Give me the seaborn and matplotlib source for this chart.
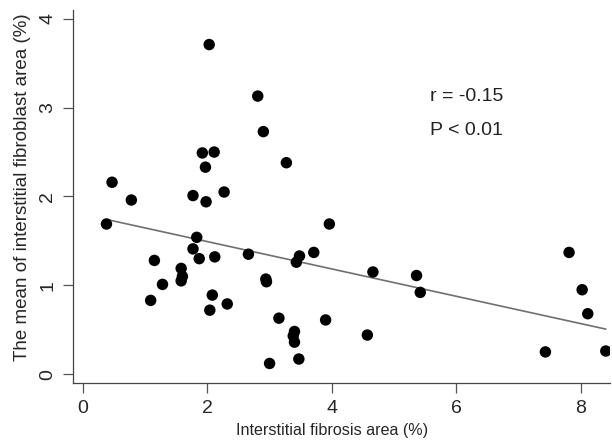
import matplotlib
matplotlib.use("Agg")
import matplotlib.pyplot as plt
import seaborn as sns
import numpy as np
import pandas as pd

fibrosis = [0.38, 0.47, 0.78, 1.09, 1.15, 1.28, 1.58, 1.60, 1.58, 1.77, 1.77, 1.83, 1.87,
            1.92, 1.97, 1.98, 2.03, 2.04, 2.08, 2.11, 2.12, 2.27, 2.32, 2.66, 2.81, 2.90,
            2.94, 2.95, 3.00, 3.15, 3.27, 3.38, 3.40, 3.40, 3.43, 3.47, 3.48, 3.71, 3.90,
            3.96, 4.57, 4.66, 5.36, 5.42, 7.43, 7.81, 8.02, 8.11, 8.40]
fibroblast = [1.69, 2.16, 1.96, 0.83, 1.28, 1.01, 1.19, 1.10, 1.05, 2.01, 1.41, 1.54, 1.30,
              2.49, 2.33, 1.94, 3.71, 0.72, 0.89, 2.50, 1.32, 2.05, 0.79, 1.35, 3.13, 2.73,
              1.07, 1.04, 0.12, 0.63, 2.38, 0.43, 0.48, 0.36, 1.26, 0.17, 1.33, 1.37, 0.61,
              1.69, 0.44, 1.15, 1.11, 0.92, 0.25, 1.37, 0.95, 0.68, 0.26]
x_ticks = [0, 2, 4, 6, 8]
y_ticks = [0, 1, 2, 3, 4]
stats_text = ["r = -0.15", "P < 0.01"]

df = pd.DataFrame({"x": fibrosis, "y": fibroblast})

sns.set_style("ticks")
plt.rcParams["font.family"] = ["Liberation Sans", "DejaVu Sans"]

fig = plt.figure(figsize=(6.12, 4.41), dpi=100)
ax = fig.add_axes([0.119, 0.1315, 0.878, 0.846])

sns.regplot(data=df, x="x", y="y", ax=ax, ci=None,
            scatter_kws=dict(s=68, color="black", edgecolor="none", alpha=1, zorder=3),
            line_kws=dict(color="#707070", lw=1.2, zorder=2))

ax.set_xlim(-0.16, 8.47)
ax.set_ylim(-0.10, 4.10)
ax.set_xticks(x_ticks)
ax.set_yticks(y_ticks)
ax.set_xticklabels([str(t) for t in x_ticks], fontsize=14)
ax.set_yticklabels([str(t) for t in y_ticks], fontsize=14, rotation=90, va="center")
ax.tick_params(axis="both", length=7, width=0.9, color="#555555", pad=5)
sns.despine(ax=ax)
for s in ["left", "bottom"]:
    ax.spines[s].set_color("#444444")
    ax.spines[s].set_linewidth(0.9)

ax.set_xlabel("Interstitial fibrosis area (%)", fontsize=11.6)
ax.set_ylabel("The mean of interstitial fibroblast area (%)", fontsize=13.5)
ax.xaxis.set_label_coords(0.483, -0.108)
ax.yaxis.set_label_coords(-0.077, 0.524)

ax.text(5.57, 3.12, stats_text[0], fontsize=14, color="#222222", va="center", ha="left")
ax.text(5.57, 2.74, stats_text[1], fontsize=14, color="#222222", va="center", ha="left")

fig.savefig("out.png", dpi=100)
